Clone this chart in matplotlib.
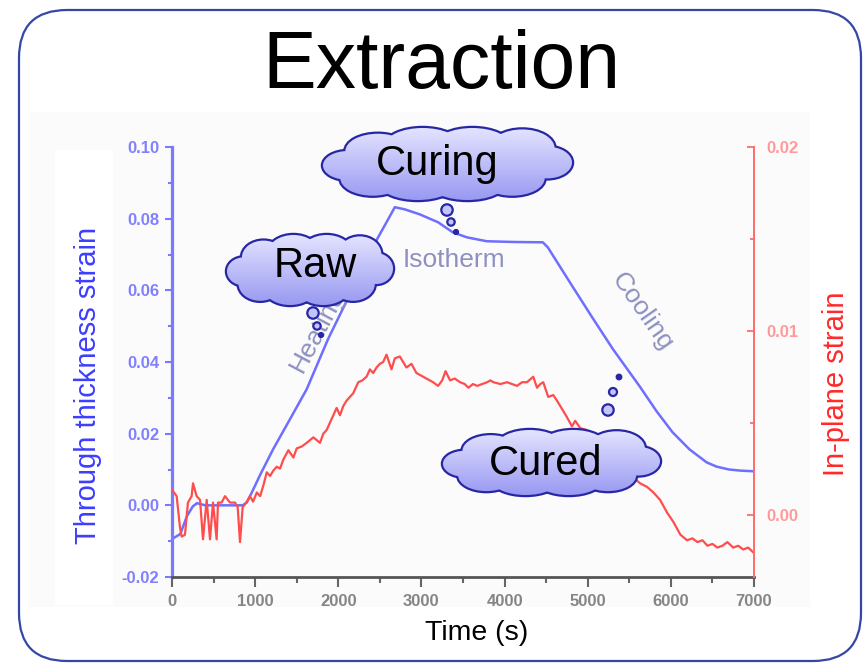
import numpy as np
import matplotlib.pyplot as plt
from matplotlib.patches import Ellipse, Circle, FancyBboxPatch, Rectangle

plt.rcParams['font.family'] = ['Liberation Sans', 'DejaVu Sans']

# through thickness strain (left axis)
blue_t = [0, 100, 180, 250, 300, 400, 850, 900, 960, 1060, 1215, 1418, 1620, 1875,
          2100, 2300, 2465, 2580, 2680, 2800, 2980, 3200, 3377, 3545, 3786, 4100,
          4460, 4520, 4800, 5050, 5300, 5625, 5830, 6020, 6225, 6430, 6550, 6700,
          6830, 7000]
blue_strain = [-0.0094, -0.0080, -0.0030, -0.0003, 0.0006, 0.0, 0.0, 0.0008, 0.0036,
               0.0085, 0.0156, 0.0240, 0.0324, 0.0463, 0.0570, 0.0662, 0.0742, 0.0790,
               0.0832, 0.0826, 0.0812, 0.0790, 0.0762, 0.0748, 0.0737, 0.0735, 0.0734,
               0.0720, 0.0617, 0.0526, 0.0437, 0.0332, 0.0262, 0.0204, 0.0156, 0.0120,
               0.0108, 0.0100, 0.0097, 0.0095]

# in-plane strain (right axis)
red_t = [0, 56, 96, 116, 156, 192, 236, 253, 296, 337, 373, 417, 457, 493, 537, 553,
         597, 637, 698, 758, 790, 818, 850, 900, 938, 975, 1020, 1060, 1100, 1140,
         1180, 1220, 1260, 1300, 1340, 1400, 1460, 1500, 1560, 1620, 1700, 1780,
         1820, 1860, 1900, 1980, 2020, 2060, 2100, 2180, 2240, 2290, 2340, 2380,
         2420, 2460, 2500, 2540, 2580, 2610, 2640, 2680, 2740, 2780, 2820, 2880,
         2940, 2980, 3060, 3140, 3200, 3250, 3290, 3345, 3400, 3465, 3520, 3565,
         3620, 3670, 3790, 3830, 3865, 3950, 4030, 4090, 4150, 4210, 4270, 4345,
         4390, 4430, 4465, 4525, 4585, 4630, 4670, 4750, 4810, 4850, 4910, 4990,
         5080, 5180, 5300, 5400, 5475, 5550, 5630, 5715, 5790, 5870, 5955, 6030,
         6115, 6195, 6260, 6320, 6380, 6440, 6500, 6560, 6620, 6680, 6750, 6810,
         6870, 6930, 7000]
red_strain = [0.00135, 0.0010, -0.0007, -0.0012, -0.0011, 0.00065, 0.0010, 0.0017,
              0.0010, 0.0008, -0.00135, 0.0008, -0.00135, 0.00065, -0.00135, 0.00065,
              0.00065, 0.0010, 0.00065, 0.00065, 0.0004, -0.0015, 0.0004, 0.0007,
              0.0010, 0.0007, 0.0012, 0.0010, 0.0016, 0.0023, 0.0021, 0.0024, 0.0026,
              0.0025, 0.0030, 0.0035, 0.0031, 0.0036, 0.0037, 0.0039, 0.0042, 0.0039,
              0.0044, 0.0046, 0.0050, 0.0058, 0.0054, 0.0059, 0.0062, 0.0066, 0.0072,
              0.0073, 0.0075, 0.0079, 0.0077, 0.0080, 0.0082, 0.0083, 0.0087, 0.0083,
              0.0079, 0.0085, 0.0086, 0.0083, 0.0080, 0.0082, 0.0077, 0.0076, 0.0074,
              0.0072, 0.0070, 0.0073, 0.0078, 0.0073, 0.0074, 0.0072, 0.0071, 0.0069,
              0.0071, 0.0070, 0.0072, 0.0073, 0.0072, 0.0071, 0.0072, 0.0071, 0.0070,
              0.0072, 0.0072, 0.0075, 0.0069, 0.0071, 0.0072, 0.0064, 0.0065, 0.0062,
              0.0059, 0.0053, 0.0048, 0.0051, 0.0047, 0.0046, 0.0040, 0.0034, 0.0027,
              0.0022, 0.0019, 0.0020, 0.0017, 0.0015, 0.0012, 0.0008, 0.0001, -0.0004,
              -0.0011, -0.0014, -0.0013, -0.0015, -0.0014, -0.0017, -0.0016, -0.0018,
              -0.0017, -0.0015, -0.0018, -0.0017, -0.0019, -0.0018, -0.0021]

x_ticks = [0, 1000, 2000, 3000, 4000, 5000, 6000, 7000]
x_minor = [500, 1500, 2500, 3500, 4500, 5500, 6500]
left_ticks = [-0.02, 0.00, 0.02, 0.04, 0.06, 0.08, 0.10]
left_minor = [-0.01, 0.01, 0.03, 0.05, 0.07, 0.09]
right_ticks = [0.00, 0.01, 0.02]
right_minor = [0.005, 0.015]

W, H = 868, 664
fig = plt.figure(figsize=(W / 100, H / 100), dpi=100)

# background layer, pixel coords
bg = fig.add_axes([0, 0, 1, 1], zorder=-1)
bg.set_xlim(0, W); bg.set_ylim(H, 0); bg.axis('off')
bg.add_patch(Rectangle((30, 112), 780, 495, color='#fbfbfb', lw=0))
bg.add_patch(Rectangle((55, 150), 58, 455, color='white', lw=0))
bg.add_patch(Rectangle((811, 222), 46, 315, color='white', lw=0))

# main chart
ax = fig.add_axes([172 / W, 1 - 577 / H, 582 / W, 430 / H])
ax.patch.set_alpha(0)
ax2 = ax.twinx()

ax.plot(blue_t, blue_strain, color='#6e6eff', lw=1.8)
ax2.plot(red_t, red_strain, color='#ff4d4d', lw=1.6)

ax.set_xlim(0, 7000)
ax.set_ylim(-0.02, 0.10)
ax2.set_ylim(-0.0034, 0.02)

ax.set_xticks(x_ticks)
ax.set_xticklabels([str(t) for t in x_ticks])
ax.set_xticks(x_minor, minor=True)
ax.set_yticks(left_ticks)
ax.set_yticklabels(['%.2f' % v for v in left_ticks])
ax.set_yticks(left_minor, minor=True)
ax2.set_yticks(right_ticks)
ax2.set_yticklabels(['%.2f' % v for v in right_ticks])
ax2.set_yticks(right_minor, minor=True)

ax.tick_params(axis='x', which='major', direction='out', length=7, width=1.5,
               color='#666666', labelcolor='#858585', labelsize=12, pad=5)
ax.tick_params(axis='x', which='minor', direction='out', length=4, width=1.5, color='#666666')
ax.tick_params(axis='y', which='major', direction='out', length=5, width=1.5,
               color='#7a7aff', labelcolor='#8080ff', labelsize=12, pad=4)
ax.tick_params(axis='y', which='minor', direction='out', length=3, width=1.5, color='#7a7aff')
ax2.tick_params(axis='y', which='major', direction='in', length=5, width=1.3,
                color='#ff6b6b', labelcolor='#ff9a9a', labelsize=12, pad=9)
ax2.tick_params(axis='y', which='minor', direction='in', length=3, width=1.3, color='#ff6b6b')
for lab in ax.get_xticklabels() + ax.get_yticklabels() + ax2.get_yticklabels():
    lab.set_fontweight('bold')

ax.spines['top'].set_visible(False)
ax.spines['right'].set_visible(False)
ax.spines['left'].set_color('#7a7aff')
ax.spines['left'].set_linewidth(2.3)
ax.spines['bottom'].set_color('#555555')
ax.spines['bottom'].set_linewidth(2)
for s in ['top', 'left', 'bottom']:
    ax2.spines[s].set_visible(False)
ax2.spines['right'].set_color('#ff6b6b')
ax2.spines['right'].set_linewidth(1.4)

fig.text(88 / W, 1 - 385 / H, 'Through thickness strain', rotation=90,
         ha='center', va='center', fontsize=21, color='#3d3dff')
fig.text(836 / W, 1 - 384 / H, 'In-plane strain', rotation=90,
         ha='center', va='center', fontsize=21, color='#ff2a2a')
fig.text(477 / W, 1 - 633 / H, 'Time (s)', ha='center', va='center', fontsize=20.5)

# overlay layer: border, title, clouds
ov = fig.add_axes([0, 0, 1, 1], zorder=5)
ov.axis('off')
ov.patch.set_alpha(0)

ov.add_patch(FancyBboxPatch((19, 10), 842, 651, boxstyle='round,pad=0,rounding_size=48',
                            fc='none', ec='#3446a8', lw=1.6))
ov.text(441, 88, 'Extraction', ha='center', va='baseline', fontsize=58)

note_color = '#8e91c0'
ov.text(454, 267, 'Isotherm', ha='center', va='baseline', fontsize=19, color=note_color, zorder=1)
ov.text(318, 330, 'Heating', ha='center', va='center', rotation=62, rotation_mode='anchor',
        fontsize=19, color=note_color, zorder=1)
ov.text(642, 312, 'Cooling', ha='center', va='center', rotation=-55, rotation_mode='anchor',
        fontsize=19, color=note_color, zorder=1)

lobes = [(0.10, 0.52, 0.10, 0.20), (0.20, 0.70, 0.13, 0.24), (0.38, 0.78, 0.15, 0.22),
         (0.58, 0.78, 0.15, 0.22), (0.76, 0.70, 0.13, 0.24), (0.90, 0.48, 0.10, 0.22),
         (0.80, 0.28, 0.13, 0.26), (0.60, 0.24, 0.15, 0.24), (0.40, 0.24, 0.15, 0.24),
         (0.22, 0.32, 0.13, 0.24), (0.50, 0.50, 0.40, 0.30)]
edge = '#2727a6'
g = np.linspace(0, 1, 64)[:, None, None]
top_c = np.array([0.89, 0.89, 1.0])
bot_c = np.array([0.60, 0.60, 0.95])
grad = top_c * (1 - g) + bot_c * g


def cloud(x0, y0, w, h, text, tx, ty):
    for cx, cy, rx, ry in lobes:
        ov.add_patch(Ellipse((x0 + cx * w, y0 + cy * h), 2 * rx * w, 2 * ry * h,
                             fc='none', ec=edge, lw=3.2, zorder=2))
    for cx, cy, rx, ry in lobes:
        im = ov.imshow(grad, extent=(x0, x0 + w, y0 + h, y0), aspect='auto',
                       interpolation='bilinear', zorder=3)
        clip = Ellipse((x0 + cx * w, y0 + cy * h), 2 * rx * w, 2 * ry * h,
                       transform=ov.transData)
        im.set_clip_path(clip)
    ov.text(tx, ty, text, ha='center', va='baseline', fontsize=30, zorder=4)


def bubbles(pts):
    for i, (x, y, r) in enumerate(pts):
        fc = edge if i == 2 else '#c4c4fa'
        ov.add_patch(Circle((x, y), r, fc=fc, ec=edge, lw=1.6, zorder=4))


cloud(323, 128, 249, 72, 'Curing', 437, 175)
cloud(227, 235, 166, 70, 'Raw', 315, 277)
cloud(443, 430, 217, 65, 'Cured', 546, 475)
bubbles([(447, 210, 5.7), (451, 222, 3.7), (456, 232, 2.0)])
bubbles([(313, 313, 5.7), (317, 326, 3.7), (321, 335, 2.0)])
bubbles([(608, 410, 5.7), (613, 392, 4.0), (619, 377, 2.3)])

ov.set_xlim(0, W)
ov.set_ylim(H, 0)

fig.savefig('out.png', dpi=100)
